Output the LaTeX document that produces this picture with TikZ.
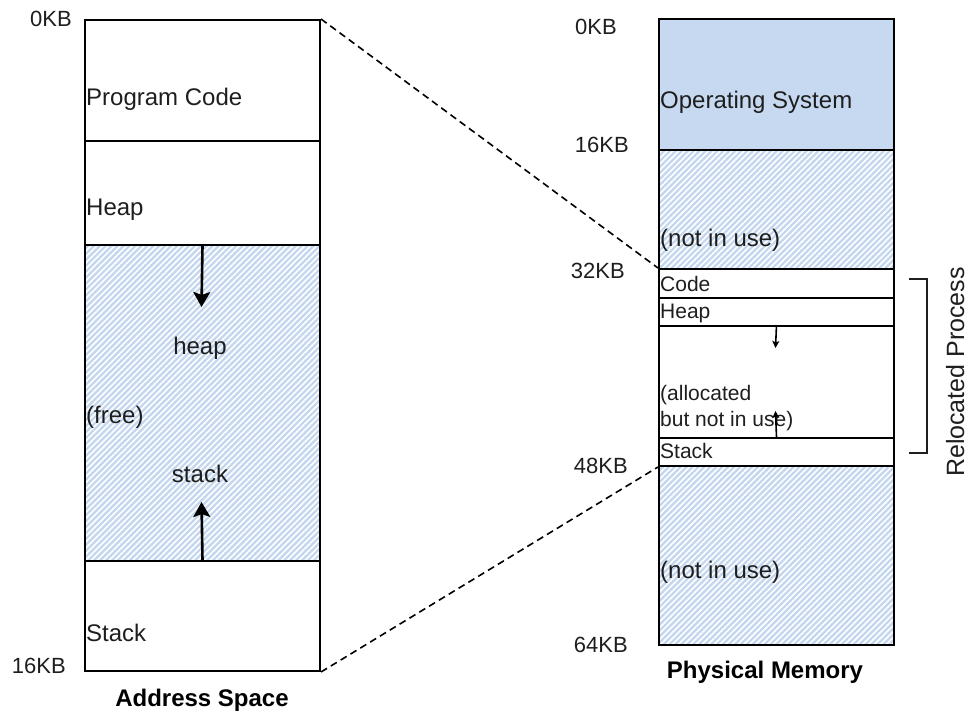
\documentclass[tikz,border=0pt]{standalone}
\usepackage{fontspec}
\setmainfont{Liberation Sans}
\usetikzlibrary{patterns.meta,arrows.meta}
\definecolor{osblue}{HTML}{C6D9F1}
\definecolor{hatchblue}{HTML}{C4D7EF}
\definecolor{txt}{HTML}{1E1E1E}
\begin{document}
\begin{tikzpicture}[x=1pt,y=-1pt,
  seg/.style={draw=black, line width=2pt, minimum width=235pt, inner sep=0pt, anchor=north west},
  hatched/.style={preaction={fill=hatchblue}, pattern={Lines[angle=45,distance=4.2pt,line width=1.6pt]}, pattern color=white},
  lbl/.style={text=txt, inner sep=0pt, anchor=base west, font=\fontsize{24}{28}\selectfont},
  small/.style={text=txt, inner sep=0pt, anchor=base west, font=\fontsize{21}{25}\selectfont},
  kb/.style={text=txt, inner sep=0pt, anchor=base east, font=\fontsize{22}{26}\selectfont},
  title/.style={text=black, inner sep=0pt, anchor=base, font=\fontsize{24}{28}\selectfont\bfseries},
  bigarrow/.style={line width=2.6pt, -{Stealth[length=15pt,width=17pt,inset=3pt]}},
  smallarrow/.style={line width=1.6pt, -{Stealth[length=7pt,width=7pt,inset=1.5pt]}},
  dashline/.style={line width=1.6pt, dash pattern=on 7pt off 4.5pt}
]
\useasboundingbox (0,0) rectangle (974,711);

% Address space
\node[seg, minimum height=121pt] (pc) at (84,19) {};
\node[seg, minimum height=104pt] (hp) at (84,140) {};
\node[seg, hatched, minimum height=316pt] (free) at (84,244) {};
\node[seg, minimum height=110pt] (st) at (84,560) {};

\node[lbl] (tpc) at (86,106) {Program Code};
\node[lbl] (thp) at (86,216) {Heap};
\node[lbl] (tfree) at (86,423) {(free)};
\node[lbl] (tst) at (86,641) {Stack};
\node[lbl, anchor=base] (theap) at (200,354) {heap};
\node[lbl, anchor=base] (tstack) at (200,482) {stack};

\coordinate (heaptip) at (201.5,307);
\coordinate (stacktip) at (201.5,502);
\draw[bigarrow] (hp.south) -- (heaptip);
\draw[bigarrow] (st.north) -- (stacktip);

\node[kb] (l0) at (72,27) {0KB};
\node[kb] (l16) at (66,673) {16KB};
\node[title] (as) at (202,706) {Address Space};

% Physical memory
\node[seg, fill=osblue, minimum height=131pt] (os) at (658,18) {};
\node[seg, hatched, minimum height=119pt] (nu1) at (658,149) {};
\node[seg, minimum height=29pt] (code) at (658,268) {};
\node[seg, minimum height=28pt] (rheap) at (658,297) {};
\node[seg, minimum height=112pt] (alloc) at (658,325) {};
\node[seg, minimum height=28pt] (rstack) at (658,437) {};
\node[seg, hatched, minimum height=179pt] (nu2) at (658,465) {};

\node[lbl] (tos) at (660,109) {Operating System};
\node[lbl] (tnu1) at (660,247) {(not in use)};
\node[small] (tcode) at (660,291) {Code};
\node[small] (trheap) at (660,318) {Heap};
\node[small] (talloc1) at (660,400) {(allocated};
\node[small] (talloc2) at (660,426) {but not in use)};
\node[small] (trstack) at (660,458) {Stack};
\node[lbl] (tnu2) at (660,578) {(not in use)};

\coordinate (rheaptip) at (775.5,348);
\coordinate (rstacktip) at (775.5,411);
\draw[smallarrow] (alloc.north) -- (rheaptip);
\draw[smallarrow] (rstack.north) -- (rstacktip);

\node[kb] (r0) at (617,35) {0KB};
\node[kb] (r16) at (629,153) {16KB};
\node[kb] (r32) at (625,279) {32KB};
\node[kb] (r48) at (628,473) {48KB};
\node[kb] (r64) at (628,652) {64KB};
\node[title] (pm) at (765,678) {Physical Memory};

% mapping lines
\draw[dashline] (pc.north east) -- (code.north west);
\draw[dashline] (st.south east) -- (rstack.south west);

% bracket
\coordinate (bt) at (909,279);
\coordinate (bb) at (909,453);
\draw[line width=1.4pt, draw=txt] (bt) -- (927,279) -- (927,453) -- (bb);
\node[text=txt, inner sep=0pt, rotate=90, anchor=base, font=\fontsize{25}{29}\selectfont] (rp) at (964,372) {Relocated Process};
\end{tikzpicture}
\end{document}
